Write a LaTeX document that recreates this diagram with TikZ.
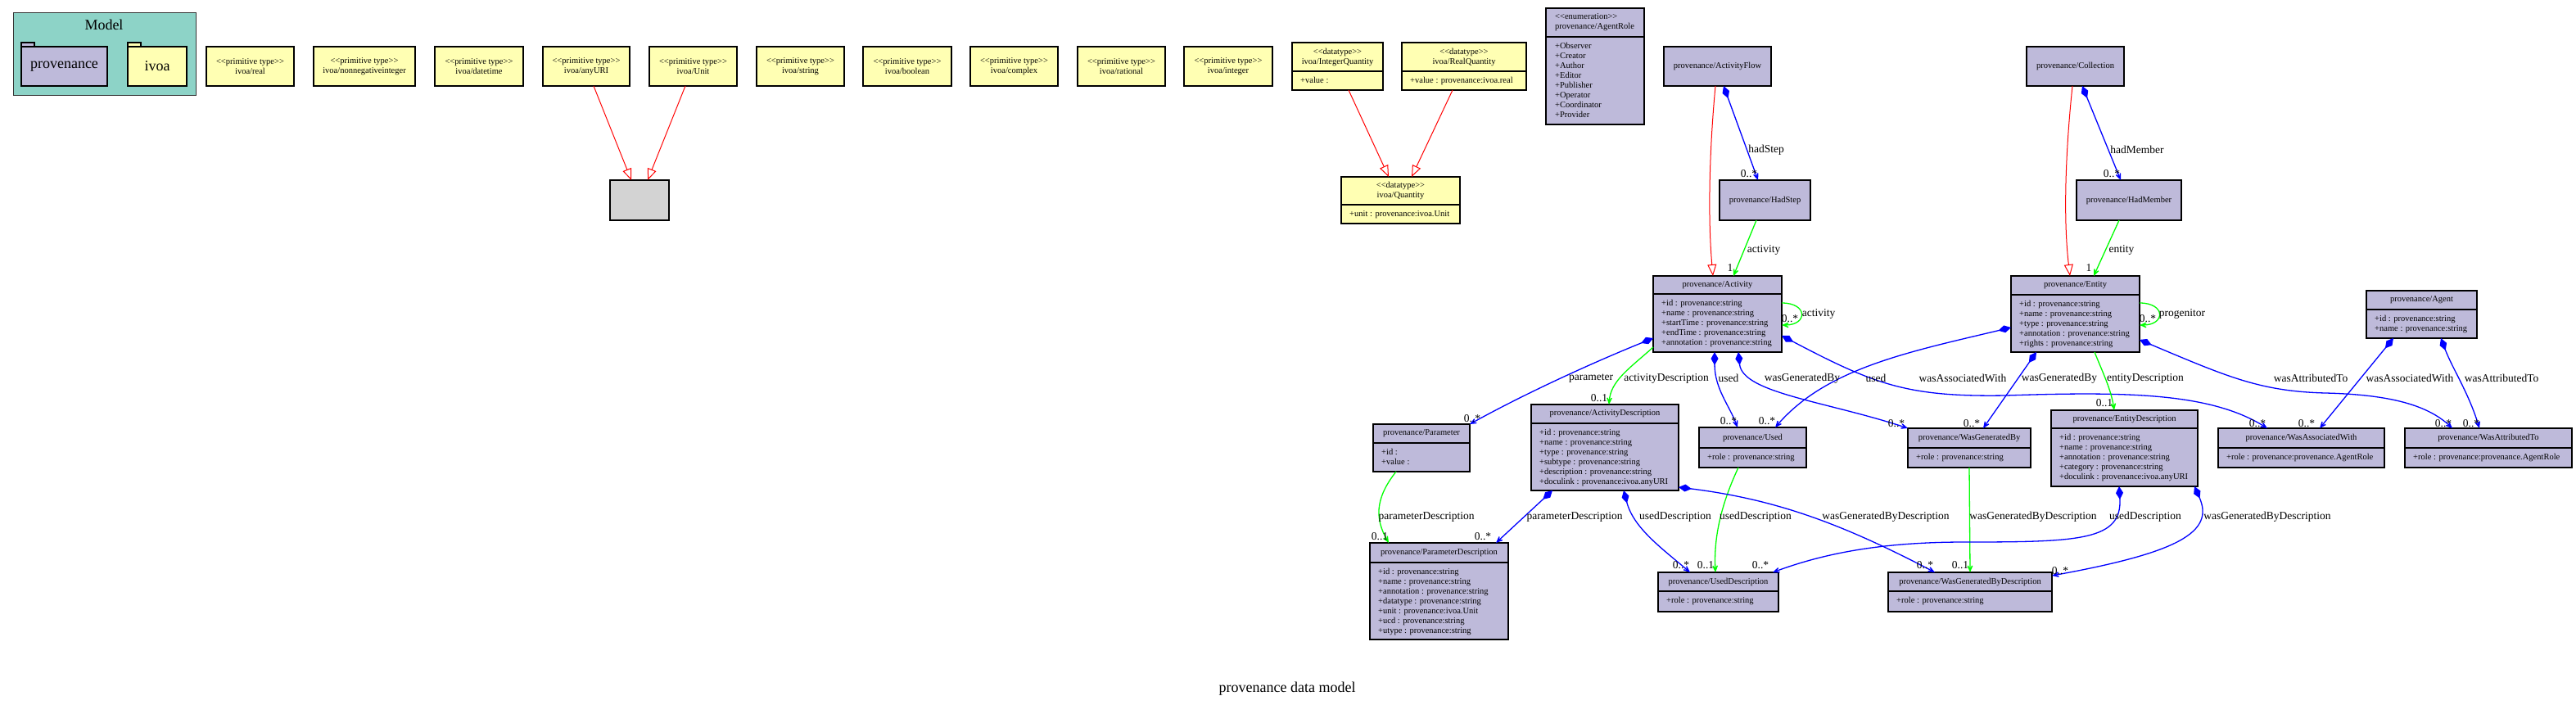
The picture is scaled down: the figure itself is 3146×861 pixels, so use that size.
\documentclass[tikz,border=0pt]{standalone}
\usepackage{fontspec}
\setmainfont{Liberation Serif}
\usetikzlibrary{arrows.meta}
\definecolor{lav}{HTML}{BEBADA}
\definecolor{yel}{HTML}{FFFFB3}
\definecolor{tealm}{HTML}{8DD3C7}
\definecolor{gry}{HTML}{D3D3D3}
\definecolor{blu}{HTML}{0000FF}
\definecolor{grn}{HTML}{00FF00}
\definecolor{rd}{HTML}{FF0000}
\newcommand{\ctxt}{\fontsize{10.5}{12}\selectfont}
\newcommand{\stL}{<\kern0pt<}
\newcommand{\stR}{>\kern0pt>}
\tikzset{
  cbox/.style={draw=black, line width=1.3pt, inner sep=0pt, outer sep=0pt},
  divline/.style={draw=black, line width=1.3pt},
  ctitle/.style={inner sep=0pt, font=\ctxt, align=center},
  cattr/.style={inner sep=0pt, anchor=north west, font=\ctxt, align=left},
  elab/.style={inner sep=0pt, font=\fontsize{13.5}{15}\selectfont},
  genl/.style={draw=rd, line width=1pt, -{Triangle[open, length=14pt, width=11pt, fill=white]}},
  compo/.style={draw=blu, line width=1.3pt, {Diamond[length=16pt, width=9pt]}-{Stealth[length=14pt, width=12pt, inset=9pt]}},
  asso/.style={draw=grn, line width=1.3pt, -{Stealth[length=14pt, width=12pt, inset=9pt]}},
}
% fill, name, x1, y1, x2, y2, text
\newcommand{\umlbox}[7]{%
  \node[cbox, fill=#1, anchor=north west, minimum width={(#5)-(#3)}, minimum height={(#6)-(#4)}, font=\ctxt, align=center] (#2) at (#3,#4) {#7};
}
% fill, name, x1, y1, x2, y2, ydiv, title, attrs
\newcommand{\umlclass}[9]{%
  \node[cbox, fill=#1, anchor=north west, minimum width={(#5)-(#3)}, minimum height={(#6)-(#4)}] (#2) at (#3,#4) {};
  \draw[divline] (#3,#7) -- (#5,#7);
  \node[ctitle] (#2-t) at ({((#3)+(#5))/2},{((#4)+(#7))/2}) {#8};
  \node[cattr] (#2-a) at ({(#3)+10},{(#7)+7.5}) {#9};
}
\begin{document}
\begin{tikzpicture}[x=1pt,y=-1pt]
\fill[white] (0,0) rectangle (3146,861);
\useasboundingbox (0,0) rectangle (3146,861);

% ---------- Model package ----------
\node[draw=black!80, line width=1.3pt, fill=tealm, anchor=north west, minimum width=223, minimum height=101, inner sep=0pt] (model) at (16,15) {};
\node[inner sep=0pt, font=\fontsize{18}{20}\selectfont] (model-t) at (127,30) {Model};
\node[cbox, fill=lav, anchor=north west, minimum width=16, minimum height=5] (fprov-tab) at (26,52) {};
\node[cbox, fill=lav, anchor=north west, minimum width=105, minimum height=48, font=\fontsize{18}{20}\selectfont] (fprov) at (26,57) {provenance};
\node[cbox, fill=yel, anchor=north west, minimum width=16, minimum height=5] (fivoa-tab) at (156,52) {};
\node[cbox, fill=yel, anchor=north west, minimum width=72, minimum height=48, font=\fontsize{18}{20}\selectfont] (fivoa) at (156,57) {ivoa};

% ---------- primitive types ----------
\umlbox{yel}{preal}{252}{57}{359}{105}{\stL primitive type\stR\\ivoa/real}
\umlbox{yel}{pnni}{383}{57}{507}{105}{\stL primitive type\stR\\ivoa/nonnegativeinteger}
\umlbox{yel}{pdt}{531}{57}{639}{105}{\stL primitive type\stR\\ivoa/datetime}
\umlbox{yel}{puri}{663}{57}{769}{105}{\stL primitive type\stR\\ivoa/anyURI}
\umlbox{yel}{punit}{793}{57}{900}{105}{\stL primitive type\stR\\ivoa/Unit}
\umlbox{yel}{pstr}{924}{57}{1031}{105}{\stL primitive type\stR\\ivoa/string}
\umlbox{yel}{pbool}{1054}{57}{1162}{105}{\stL primitive type\stR\\ivoa/boolean}
\umlbox{yel}{pcplx}{1185}{57}{1292}{105}{\stL primitive type\stR\\ivoa/complex}
\umlbox{yel}{prat}{1316}{57}{1423}{105}{\stL primitive type\stR\\ivoa/rational}
\umlbox{yel}{pint}{1446}{57}{1554}{105}{\stL primitive type\stR\\ivoa/integer}
\umlbox{gry}{grey}{745}{220}{817}{269}{}

% ---------- datatypes ----------
\umlclass{yel}{iq}{1578}{52}{1689}{110}{87}{\stL datatype\stR\\ivoa/IntegerQuantity}{+value :}
\umlclass{yel}{rq}{1712}{52}{1864}{110}{87}{\stL datatype\stR\\ivoa/RealQuantity}{+value : provenance:ivoa.real}
\umlclass{yel}{qty}{1638}{216}{1783}{273}{250}{\stL datatype\stR\\ivoa/Quantity}{+unit : provenance:ivoa.Unit}

% ---------- enumeration ----------
\node[cbox, fill=lav, anchor=north west, minimum width=120, minimum height=142] (ar) at (1888,10) {};
\draw[divline] (1888,45) -- (2008,45);
\node[ctitle, align=left, anchor=west] (ar-t) at (1899,27.5) {\stL enumeration\stR\\provenance/AgentRole};
\node[cattr] (ar-a) at (1899,52.5) {+Observer\\+Creator\\+Author\\+Editor\\+Publisher\\+Operator\\+Coordinator\\+Provider};

% ---------- provenance classes ----------
\umlbox{lav}{af}{2032}{57}{2163}{105}{provenance/ActivityFlow}
\umlbox{lav}{hs}{2100}{220}{2211}{269}{provenance/HadStep}
\umlbox{lav}{col}{2475}{57}{2594}{105}{provenance/Collection}
\umlbox{lav}{hm}{2536}{220}{2664}{269}{provenance/HadMember}

\umlclass{lav}{act}{2019}{337}{2176}{430}{359}{provenance/Activity}{+id : provenance:string\\+name : provenance:string\\+startTime : provenance:string\\+endTime : provenance:string\\+annotation : provenance:string}
\umlclass{lav}{ent}{2456}{337}{2613}{430}{360}{provenance/Entity}{+id : provenance:string\\+name : provenance:string\\+type : provenance:string\\+annotation : provenance:string\\+rights : provenance:string}
\umlclass{lav}{agent}{2890}{355}{3025}{413}{378}{provenance/Agent}{+id : provenance:string\\+name : provenance:string}
\umlclass{lav}{par}{1677}{518}{1795}{576}{541}{provenance/Parameter}{+id :\\+value :}
\umlclass{lav}{ad}{1870}{494}{2050}{599}{517}{provenance/ActivityDescription}{+id : provenance:string\\+name : provenance:string\\+type : provenance:string\\+subtype : provenance:string\\+description : provenance:string\\+doculink : provenance:ivoa.anyURI}
\umlclass{lav}{used}{2075}{522}{2206}{571}{547}{provenance/Used}{+role : provenance:string}
\umlclass{lav}{wgb}{2330}{523}{2480}{571}{547}{provenance/WasGeneratedBy}{+role : provenance:string}
\umlclass{lav}{ed}{2505}{501}{2684}{594}{523}{provenance/EntityDescription}{+id : provenance:string\\+name : provenance:string\\+annotation : provenance:string\\+category : provenance:string\\+doculink : provenance:ivoa.anyURI}
\umlclass{lav}{waw}{2709}{523}{2912}{571}{547}{provenance/WasAssociatedWith}{+role : provenance:provenance.AgentRole}
\umlclass{lav}{wat}{2937}{523}{3141}{571}{547}{provenance/WasAttributedTo}{+role : provenance:provenance.AgentRole}
\umlclass{lav}{pd}{1673}{663}{1842}{781}{687}{provenance/ParameterDescription}{+id : provenance:string\\+name : provenance:string\\+annotation : provenance:string\\+datatype : provenance:string\\+unit : provenance:ivoa.Unit\\+ucd : provenance:string\\+utype : provenance:string}
\umlclass{lav}{ud}{2025}{699}{2172}{747}{722}{provenance/UsedDescription}{+role : provenance:string}
\umlclass{lav}{wgbd}{2306}{699}{2506}{747}{722}{provenance/WasGeneratedByDescription}{+role : provenance:string}

% ---------- generalizations ----------
\draw[genl] (puri.south -| 725,0) -- (grey.north -| 771,0);
\draw[genl] (punit.south -| 837,0) -- (grey.north -| 791,0);
\draw[genl] (iq.south -| 1647,0) -- (qty.north -| 1696,0);
\draw[genl] (rq.south -| 1774,0) -- (qty.north -| 1724,0);
\draw[genl] (af.south -| 2095,0) .. controls (2087,190) and (2086,270) .. (act.north -| 2092,0);
\draw[genl] (col.south -| 2531,0) .. controls (2522,190) and (2520,270) .. (ent.north -| 2528,0);

% ---------- compositions and associations ----------
\draw[compo] (af.south -| 2105,0) -- (hs.north -| 2147,0);
\draw[asso] (hs.south -| 2145,0) -- (act.north -| 2117,0);
\draw[compo] (col.south -| 2543,0) -- (hm.north -| 2590,0);
\draw[asso] (hm.south -| 2588,0) -- (ent.north -| 2557,0);

\draw[asso] (act.east |- 0,370) .. controls (2208,370) and (2208,397) .. (act.east |- 0,397);
\draw[asso] (ent.east |- 0,370) .. controls (2645,370) and (2645,397) .. (ent.east |- 0,397);

\draw[compo] (act.west |- 0,413) .. controls (1940,445) and (1860,482) .. (par.north east);
\draw[asso] (act.west |- 0,424) .. controls (1990,450) and (1967,465) .. (ad.north -| 1965,0);
\draw[compo] (act.south -| 2094,0) .. controls (2094,475) and (2112,495) .. (used.north -| 2122,0);
\draw[compo] (act.south -| 2123,0) .. controls (2128,480) and (2230,490) .. (wgb.north west);
\draw[compo] (act.east |- 0,410) .. controls (2290,470) and (2330,485) .. (2450,483) .. controls (2600,478) and (2700,480) .. (waw.north -| 2769,0);

\draw[compo] (ent.west |- 0,400) .. controls (2330,430) and (2230,450) .. (used.north -| 2168,0);
\draw[compo] (ent.south -| 2487,0) -- (wgb.north -| 2422,0);
\draw[asso] (ent.south -| 2558,0) .. controls (2568,455) and (2578,475) .. (ed.north -| 2582,0);
\draw[compo] (ent.east |- 0,415) .. controls (2720,460) and (2760,478) .. (2840,480) .. controls (2920,482) and (2965,495) .. (wat.north -| 2995,0);

\draw[compo] (agent.south -| 2923,0) -- (waw.north -| 2833,0);
\draw[compo] (agent.south -| 2981,0) .. controls (2995,450) and (3015,480) .. (wat.north -| 3028,0);

\draw[asso] (par.south -| 1705,0) .. controls (1678,610) and (1680,635) .. (pd.north -| 1696,0);
\draw[compo] (ad.south -| 1896,0) -- (pd.north -| 1827,0);
\draw[compo] (ad.south -| 1983,0) .. controls (1995,645) and (2030,670) .. (ud.north -| 2064,0);
\draw[asso] (used.south -| 2123,0) .. controls (2100,620) and (2093,660) .. (ud.north -| 2095,0);
\draw[compo] (ad.east |- 0,595) .. controls (2170,610) and (2250,640) .. (wgbd.north -| 2363,0);
\draw[asso] (wgb.south -| 2405,0) -- (wgbd.north -| 2406,0);
\draw[compo] (ed.south -| 2588,0) .. controls (2592,660) and (2540,662) .. (2400,662) .. controls (2300,662) and (2230,675) .. (ud.north -| 2165,0);
\draw[compo] (ed.south -| 2680,0) .. controls (2705,650) and (2660,675) .. (wgbd.east |- 0,703);

% ---------- edge labels ----------
\node[elab] (l1) at (2157,183) {hadStep};
\node[elab] (m1) at (2136,212) {0..*};
\node[elab] (l2) at (2154,305) {activity};
\node[elab] (m2) at (2113,327) {1};
\node[elab] (l3) at (2610,183) {hadMember};
\node[elab] (m3) at (2579,212) {0..*};
\node[elab] (l4) at (2591,305) {entity};
\node[elab] (m4) at (2551,327) {1};
\node[elab] (l5) at (2221,383) {activity};
\node[elab] (m5) at (2186,389) {0..*};
\node[elab] (l6) at (2665,383) {progenitor};
\node[elab] (m6) at (2623,389) {0..*};
\node[elab] (l7) at (1943,462) {parameter};
\node[elab] (m7) at (1798,511) {0..*};
\node[elab] (l8) at (2035,462) {activityDescription};
\node[elab] (m8) at (1953,486) {0..1};
\node[elab] (l9) at (2111,462) {used};
\node[elab] (m9) at (2111,514) {0..*};
\node[elab] (l10) at (2201,462) {wasGeneratedBy};
\node[elab] (m10) at (2316,517) {0..*};
\node[elab] (l11) at (2397,462) {wasAssociatedWith};
\node[elab] (m11) at (2757,517) {0..*};
\node[elab] (l12) at (2291,462) {used};
\node[elab] (m12) at (2158,514) {0..*};
\node[elab] (l13) at (2515,462) {wasGeneratedBy};
\node[elab] (m13) at (2408,517) {0..*};
\node[elab] (l14) at (2620,462) {entityDescription};
\node[elab] (m14) at (2570,492) {0..1};
\node[elab] (l15) at (2822,462) {wasAttributedTo};
\node[elab] (m15) at (2984,517) {0..*};
\node[elab] (l16) at (2943,462) {wasAssociatedWith};
\node[elab] (m16) at (2817,517) {0..*};
\node[elab] (l17) at (3055,462) {wasAttributedTo};
\node[elab] (m17) at (3018,517) {0..*};
\node[elab] (l18) at (1742,631) {parameterDescription};
\node[elab] (m18) at (1685,655) {0..1};
\node[elab] (l19) at (1923,631) {parameterDescription};
\node[elab] (m19) at (1811,655) {0..*};
\node[elab] (l20) at (2046,631) {usedDescription};
\node[elab] (m20) at (2053,690) {0..*};
\node[elab] (l21) at (2144,631) {usedDescription};
\node[elab] (m21) at (2083,690) {0..1};
\node[elab] (l22) at (2620,631) {usedDescription};
\node[elab] (m22) at (2150,690) {0..*};
\node[elab] (l23) at (2303,631) {wasGeneratedByDescription};
\node[elab] (m23) at (2351,690) {0..*};
\node[elab] (l24) at (2483,631) {wasGeneratedByDescription};
\node[elab] (m24) at (2394,690) {0..1};
\node[elab] (l25) at (2769,631) {wasGeneratedByDescription};
\node[elab] (m25) at (2516,697) {0..*};

% ---------- caption ----------
\node[inner sep=0pt, font=\fontsize{18}{20}\selectfont] (caption) at (1572,841) {provenance data model};
\end{tikzpicture}
\end{document}
